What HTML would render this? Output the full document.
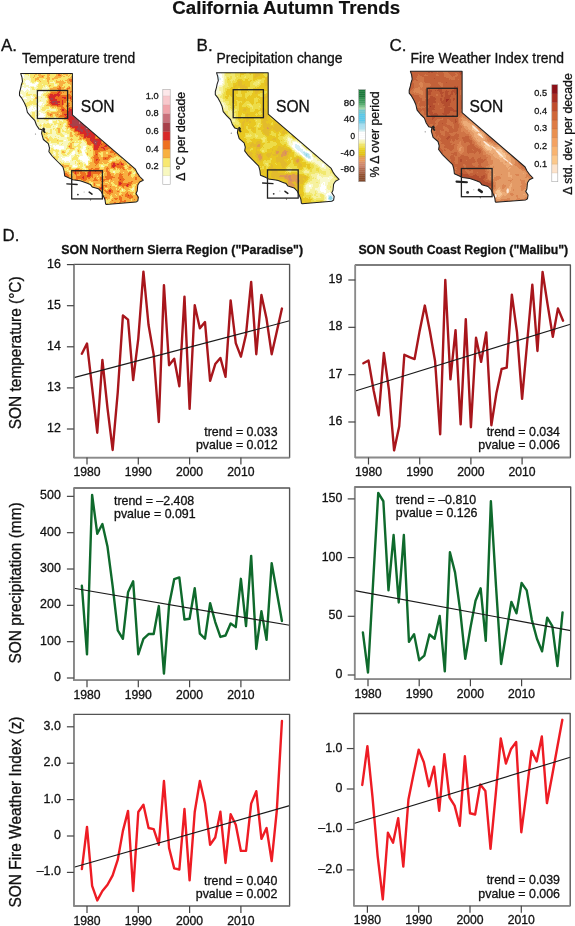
<!DOCTYPE html>
<html><head><meta charset="utf-8"><title>California Autumn Trends</title><style>html,body{margin:0;padding:0;background:#fff;width:575px;height:926px;overflow:hidden}svg{display:block;filter:blur(0.35px)}text{stroke:#111;stroke-width:0.3px}</style></head><body>
<svg width="575" height="926" viewBox="0 0 575 926" font-family='"Liberation Sans", sans-serif' fill="#111">
<defs><clipPath id="clipA"><polygon points="20.7,73.5 72.4,73.5 72.4,114.9 135.4,169.2 137.2,172.9 139.7,176.5 143.3,180.2 139.7,182 137.8,185 137.2,191.1 136,193.6 138.4,197.2 137.8,200.9 136,202.1 106.2,204.5 105.6,203.9 105,199.7 103.1,195.4 101.3,191.7 98.3,188.7 92.2,186.9 90.3,184.4 87.3,183.2 82.4,181.4 80,180.8 72.6,179.7 70.2,178.4 64.7,176 64.1,171.1 62.9,166.9 58,162 52.5,156.5 48.9,151.7 49.5,148 48.3,143.7 43.4,139.5 41.6,133.4 42.2,129.7 39,128.9 36.5,125.2 34.7,120.3 31,116.7 27.4,112.4 26.2,107 24.3,102.7 21.9,98.4 19.5,95.4 19.5,92.3 20.7,88.1 21.3,85 22.5,81.4 21.9,77.1"/></clipPath><filter id="nz1" filterUnits="userSpaceOnUse" x="0" y="60" width="575" height="160" color-interpolation-filters="sRGB"><feGaussianBlur in="SourceGraphic" stdDeviation="2" result="b"/><feTurbulence type="fractalNoise" baseFrequency="0.2" numOctaves="3" seed="3" result="n"/><feColorMatrix in="n" type="matrix" values="0 0 0 0 0 0 0 0 0 0 0 0 0 0 0 4.0 0 0 0 -1.6" result="a"/><feComposite in="b" in2="a" operator="in"/></filter><filter id="nz2" filterUnits="userSpaceOnUse" x="0" y="60" width="575" height="160" color-interpolation-filters="sRGB"><feGaussianBlur in="SourceGraphic" stdDeviation="2" result="b"/><feTurbulence type="fractalNoise" baseFrequency="0.25" numOctaves="3" seed="7" result="n"/><feColorMatrix in="n" type="matrix" values="0 0 0 0 0 0 0 0 0 0 0 0 0 0 0 4.5 0 0 0 -1.9" result="a"/><feComposite in="b" in2="a" operator="in"/></filter><filter id="nz3" filterUnits="userSpaceOnUse" x="0" y="60" width="575" height="160" color-interpolation-filters="sRGB"><feGaussianBlur in="SourceGraphic" stdDeviation="1.5" result="b"/><feTurbulence type="fractalNoise" baseFrequency="0.3" numOctaves="3" seed="11" result="n"/><feColorMatrix in="n" type="matrix" values="0 0 0 0 0 0 0 0 0 0 0 0 0 0 0 5.0 0 0 0 -2.2" result="a"/><feComposite in="b" in2="a" operator="in"/></filter><filter id="nz4" filterUnits="userSpaceOnUse" x="0" y="60" width="575" height="160" color-interpolation-filters="sRGB"><feGaussianBlur in="SourceGraphic" stdDeviation="2.5" result="b"/><feTurbulence type="fractalNoise" baseFrequency="0.18" numOctaves="3" seed="19" result="n"/><feColorMatrix in="n" type="matrix" values="0 0 0 0 0 0 0 0 0 0 0 0 0 0 0 4.0 0 0 0 -1.5" result="a"/><feComposite in="b" in2="a" operator="in"/></filter><filter id="nz5" filterUnits="userSpaceOnUse" x="0" y="60" width="575" height="160" color-interpolation-filters="sRGB"><feGaussianBlur in="SourceGraphic" stdDeviation="1.5" result="b"/><feTurbulence type="fractalNoise" baseFrequency="0.3" numOctaves="3" seed="23" result="n"/><feColorMatrix in="n" type="matrix" values="0 0 0 0 0 0 0 0 0 0 0 0 0 0 0 5.0 0 0 0 -2.4" result="a"/><feComposite in="b" in2="a" operator="in"/></filter><filter id="nz6" filterUnits="userSpaceOnUse" x="0" y="60" width="575" height="160" color-interpolation-filters="sRGB"><feGaussianBlur in="SourceGraphic" stdDeviation="3" result="b"/><feTurbulence type="fractalNoise" baseFrequency="0.15" numOctaves="3" seed="29" result="n"/><feColorMatrix in="n" type="matrix" values="0 0 0 0 0 0 0 0 0 0 0 0 0 0 0 3.5 0 0 0 -1.2" result="a"/><feComposite in="b" in2="a" operator="in"/></filter><filter id="bl2" filterUnits="userSpaceOnUse" x="0" y="60" width="575" height="160"><feGaussianBlur stdDeviation="2"/></filter><filter id="bl3" filterUnits="userSpaceOnUse" x="0" y="60" width="575" height="160"><feGaussianBlur stdDeviation="3"/></filter><filter id="bl4" filterUnits="userSpaceOnUse" x="0" y="60" width="575" height="160"><feGaussianBlur stdDeviation="4"/></filter><filter id="fmA" filterUnits="userSpaceOnUse" x="10" y="66" width="140" height="144" color-interpolation-filters="sRGB"><feGaussianBlur in="SourceGraphic" stdDeviation="2.2" result="fld"/><feTurbulence type="fractalNoise" baseFrequency="0.16" numOctaves="3" seed="4" result="nz"/><feColorMatrix in="nz" type="matrix" values="1 0 0 0 0 1 0 0 0 0 1 0 0 0 0 0 0 0 0 1" result="ng"/><feComposite in="fld" in2="ng" operator="arithmetic" k1="0" k2="1" k3="0.5" k4="-0.25" result="sum"/><feComponentTransfer in="sum"><feFuncR type="discrete" tableValues="1.000 0.973 0.973 0.973 0.933 0.847 0.659 0.784 0.941 0.973 0.992"/><feFuncG type="discrete" tableValues="1.000 0.973 0.910 0.690 0.439 0.157 0.251 0.439 0.643 0.784 0.910"/><feFuncB type="discrete" tableValues="1.000 0.753 0.439 0.251 0.125 0.157 0.290 0.478 0.667 0.800 0.918"/><feFuncA type="table" tableValues="1 1"/></feComponentTransfer><feGaussianBlur stdDeviation="0.45"/></filter><filter id="bl1" filterUnits="userSpaceOnUse" x="0" y="60" width="575" height="160"><feGaussianBlur stdDeviation="0.7"/></filter><filter id="fmB" filterUnits="userSpaceOnUse" x="10" y="66" width="140" height="144" color-interpolation-filters="sRGB"><feGaussianBlur in="SourceGraphic" stdDeviation="2.0" result="fld"/><feTurbulence type="fractalNoise" baseFrequency="0.12" numOctaves="3" seed="9" result="nz"/><feColorMatrix in="nz" type="matrix" values="1 0 0 0 0 1 0 0 0 0 1 0 0 0 0 0 0 0 0 1" result="ng"/><feComposite in="fld" in2="ng" operator="arithmetic" k1="0" k2="1" k3="0.22" k4="-0.11" result="sum"/><feComponentTransfer in="sum"><feFuncR type="discrete" tableValues="0.541 0.659 0.753 0.831 0.878 0.894 0.910 0.933 0.949 0.965 0.980 1.000 1.000 0.847 0.706 0.549 0.376 0.361 0.471 0.659 0.471 0.322 0.227 0.165 0.118"/><feFuncG type="discrete" tableValues="0.298 0.408 0.494 0.549 0.604 0.737 0.784 0.863 0.910 0.949 0.980 1.000 1.000 0.941 0.894 0.839 0.776 0.769 0.800 0.847 0.737 0.643 0.573 0.518 0.478"/><feFuncB type="discrete" tableValues="0.188 0.290 0.384 0.408 0.314 0.173 0.133 0.282 0.439 0.627 0.816 1.000 1.000 0.965 0.941 0.925 0.910 0.902 0.863 0.690 0.533 0.408 0.333 0.282 0.251"/><feFuncA type="table" tableValues="1 1"/></feComponentTransfer><feGaussianBlur stdDeviation="0.45"/></filter><filter id="fmC" filterUnits="userSpaceOnUse" x="10" y="66" width="140" height="144" color-interpolation-filters="sRGB"><feGaussianBlur in="SourceGraphic" stdDeviation="2.4" result="fld"/><feTurbulence type="fractalNoise" baseFrequency="0.13" numOctaves="3" seed="13" result="nz"/><feColorMatrix in="nz" type="matrix" values="1 0 0 0 0 1 0 0 0 0 1 0 0 0 0 0 0 0 0 1" result="ng"/><feComposite in="fld" in2="ng" operator="arithmetic" k1="0" k2="1" k3="0.3" k4="-0.15" result="sum"/><feComponentTransfer in="sum"><feFuncR type="discrete" tableValues="1.000 0.984 0.965 0.933 0.894 0.855 0.812 0.765 0.706 0.627 0.549"/><feFuncG type="discrete" tableValues="1.000 0.886 0.773 0.675 0.604 0.525 0.455 0.384 0.306 0.188 0.102"/><feFuncB type="discrete" tableValues="1.000 0.800 0.588 0.471 0.400 0.329 0.275 0.227 0.188 0.141 0.094"/><feFuncA type="table" tableValues="1 1"/></feComponentTransfer><feGaussianBlur stdDeviation="0.45"/></filter></defs>
<rect width="575" height="926" fill="#fff"/>
<text x="286.2" y="13.6" text-anchor="middle" font-size="18.7" font-weight="bold" style="stroke-width:0.2px">California Autumn Trends</text>
<text x="1" y="50.6" font-size="17">A.</text>
<text x="196.6" y="50.6" font-size="17">B.</text>
<text x="389.4" y="50.6" font-size="17">C.</text>
<text x="22.0" y="63" font-size="13.85">Temperature trend</text>
<text x="216.6" y="63" font-size="13.9">Precipitation change</text>
<text x="410.6" y="63" font-size="13.9">Fire Weather Index trend</text>
<g clip-path="url(#clipA)"><g filter="url(#fmA)">
<rect x="10" y="66" width="140" height="144" fill="#414141"/>
<polygon points="60,70 76,70 76,118 62,112" fill="#535353"/>
<polygon points="30,70 76,70 76,80 30,80" fill="#464646"/>
<polygon points="14,70 30,70 31,90 35,106 42,118 50,128 54,140 60,152 68,165 62,172 52,160 42,142 34,126 26,114 18,100 14,88" fill="#1e1e1e"/>
<polygon points="30,82 46,82 46,118 36,116 30,100" fill="#252525"/>
<ellipse cx="55" cy="99" rx="7" ry="8" fill="#797979" transform="rotate(0 55 99)"/>
<ellipse cx="63" cy="108" rx="5" ry="9" fill="#6b6b6b" transform="rotate(0 63 108)"/>
<polygon points="40,118 58,116 72,128 86,142 92,156 88,166 78,164 66,152 54,140 44,130" fill="#303030"/>
<polygon points="40,124 52,128 64,142 74,154 80,166 72,176 62,172 52,160 44,146" fill="#292929"/>
<ellipse cx="84" cy="157" rx="2.2" ry="8" fill="#000000" transform="rotate(-25 84 157)"/>
<ellipse cx="54" cy="116" rx="2.5" ry="2" fill="#070707" transform="rotate(0 54 116)"/>
<polygon points="62,106 74,110 140,170 130,174 112,164 94,150 78,136 66,124" fill="#666666"/>
<polygon points="66,113 73,113 130,164 122,166 104,154 88,140 74,128 66,120" fill="#7b7b7b"/>
<polygon points="68,115 76,116 92,130 88,137 78,132 68,124" fill="#979797"/>
<ellipse cx="80" cy="126" rx="5" ry="3" fill="#999999" transform="rotate(40 80 126)"/>
<ellipse cx="96" cy="142" rx="2.5" ry="4" fill="#8d8d8d" transform="rotate(-40 96 142)"/>
<ellipse cx="66" cy="104" rx="2" ry="4" fill="#828282" transform="rotate(0 66 104)"/>
<polygon points="90,150 120,152 140,168 146,182 140,206 104,206 96,186 88,170" fill="#535353"/>
<polygon points="64,168 80,170 100,174 104,190 96,190 84,183 70,180 62,176" fill="#5a5a5a"/>
<ellipse cx="84" cy="176" rx="3" ry="3" fill="#747474" transform="rotate(0 84 176)"/>
<polygon points="94,158 112,158 120,170 104,170" fill="#535353"/>
</g>
<g filter="url(#bl1)"><ellipse cx="84.5" cy="155" rx="1.7" ry="7" fill="#fff" transform="rotate(-22 84.5 155)"/><ellipse cx="87" cy="163" rx="1.2" ry="2.5" fill="#fff"/></g>
</g>
<polygon points="20.7,73.5 72.4,73.5 72.4,114.9 135.4,169.2 137.2,172.9 139.7,176.5 143.3,180.2 139.7,182 137.8,185 137.2,191.1 136,193.6 138.4,197.2 137.8,200.9 136,202.1 106.2,204.5 105.6,203.9 105,199.7 103.1,195.4 101.3,191.7 98.3,188.7 92.2,186.9 90.3,184.4 87.3,183.2 82.4,181.4 80,180.8 72.6,179.7 70.2,178.4 64.7,176 64.1,171.1 62.9,166.9 58,162 52.5,156.5 48.9,151.7 49.5,148 48.3,143.7 43.4,139.5 41.6,133.4 42.2,129.7 39,128.9 36.5,125.2 34.7,120.3 31,116.7 27.4,112.4 26.2,107 24.3,102.7 21.9,98.4 19.5,95.4 19.5,92.3 20.7,88.1 21.3,85 22.5,81.4 21.9,77.1" fill="none" stroke="#1e1e1e" stroke-width="1.05" stroke-linejoin="round"/>
<path d="M42.2,128.6 l1.5,-1 l1.5,1.5 l-0.5,1.8 l1.2,1.5 l-1.5,0.8 l-1.5,-1.6 z" fill="#222"/>
<circle cx="35.5" cy="134" r="0.6" fill="#777"/>
<rect x="37.4" y="90.5" width="30.2" height="28" fill="none" stroke="#222" stroke-width="1.3"/>
<rect x="71.7" y="170.7" width="30.7" height="28.2" fill="none" stroke="#222" stroke-width="1.3"/>
<path d="M66.8,183.8 L77.2,184.5" stroke="#222" stroke-width="1.3" stroke-linecap="round"/>
<circle cx="77.9" cy="194.6" r="0.9" fill="#333"/>
<circle cx="84.1" cy="191.9" r="0.5" fill="#999"/>
<path d="M89.2,192.1 L92,194.1" stroke="#222" stroke-width="1.6" stroke-linecap="round"/>
<path d="M89.8,199.4 l1.6,0.2 l-0.8,1.2 z" fill="#222"/>
<text x="80.8" y="112.3" font-size="15.6">SON</text>
<g transform="translate(195.8,-0.8)"><g clip-path="url(#clipA)"><g filter="url(#fmB)"><rect x="10" y="66" width="140" height="144" fill="#434343"/>
<polygon points="14,70 28,70 29,90 33,106 40,118 44,128 38,128 30,116 22,104 14,90" fill="#5e5e5e"/>
<polygon points="14,70 30,70 30,84 25,90 14,90" fill="#787878"/>
<ellipse cx="25" cy="80" rx="2" ry="2" fill="#949494" transform="rotate(0 25 80)"/>
<polygon points="30,72 50,72 50,82 30,82" fill="#4b4b4b"/>
<ellipse cx="62" cy="84" rx="8" ry="5" fill="#4e4e4e" transform="rotate(0 62 84)"/>
<ellipse cx="58" cy="108" rx="6" ry="5" fill="#505050" transform="rotate(20 58 108)"/>
<ellipse cx="40" cy="110" rx="4" ry="6" fill="#505050" transform="rotate(0 40 110)"/>
<ellipse cx="66" cy="140" rx="8" ry="5" fill="#4c4c4c" transform="rotate(30 66 140)"/>
<ellipse cx="64" cy="156" rx="4" ry="4" fill="#2c2c2c" transform="rotate(30 64 156)"/>
<ellipse cx="87" cy="153" rx="5" ry="7" fill="#2b2b2b" transform="rotate(0 87 153)"/>
<ellipse cx="68" cy="149" rx="3" ry="3" fill="#5a5a5a" transform="rotate(0 68 149)"/>
<polygon points="92,135 112,150 136,168 132,174 118,164 100,153 90,145" fill="#737373"/>
<ellipse cx="100" cy="148" rx="3" ry="2" fill="#9e9e9e" transform="rotate(40 100 148)"/>
<ellipse cx="106" cy="151" rx="2.5" ry="1.5" fill="#a8a8a8" transform="rotate(40 106 151)"/>
<ellipse cx="110" cy="156" rx="1.2" ry="3.5" fill="#d6d6d6" transform="rotate(-30 110 156)"/>
<ellipse cx="114" cy="160" rx="2" ry="1.5" fill="#9e9e9e" transform="rotate(40 114 160)"/>
<ellipse cx="120" cy="164" rx="2" ry="1.5" fill="#949494" transform="rotate(40 120 164)"/>
<ellipse cx="109" cy="172" rx="2" ry="2" fill="#a3a3a3" transform="rotate(0 109 172)"/>
<polygon points="104,172 140,174 144,186 140,200 120,200 108,190" fill="#666666"/>
<ellipse cx="126" cy="190" rx="5" ry="4" fill="#757575" transform="rotate(0 126 190)"/>
<ellipse cx="135" cy="199" rx="4" ry="4" fill="#adadad" transform="rotate(0 135 199)"/>
<polygon points="80,175 100,174 114,176 114,183 100,184 88,182 80,180" fill="#2b2b2b"/>
<ellipse cx="94" cy="172" rx="5" ry="3" fill="#4c4c4c" transform="rotate(0 94 172)"/>
<ellipse cx="112" cy="196" rx="4" ry="3" fill="#575757" transform="rotate(0 112 196)"/></g></g></g>
<polygon points="216.5,72.7 268.2,72.7 268.2,114.1 331.2,168.4 333,172.1 335.5,175.7 339.1,179.4 335.5,181.2 333.6,184.2 333,190.3 331.8,192.8 334.2,196.4 333.6,200.1 331.8,201.3 302,203.7 301.4,203.1 300.8,198.9 298.9,194.6 297.1,190.9 294.1,187.9 288,186.1 286.1,183.6 283.1,182.4 278.2,180.6 275.8,180 268.4,178.9 266,177.6 260.5,175.2 259.9,170.3 258.7,166.1 253.8,161.2 248.3,155.7 244.7,150.9 245.3,147.2 244.1,142.9 239.2,138.7 237.4,132.6 238,128.9 234.8,128.1 232.3,124.4 230.5,119.5 226.8,115.9 223.2,111.6 222,106.2 220.1,101.9 217.7,97.6 215.3,94.6 215.3,91.5 216.5,87.3 217.1,84.2 218.3,80.6 217.7,76.3" fill="none" stroke="#1e1e1e" stroke-width="1.05" stroke-linejoin="round"/>
<path d="M238,127.8 l1.5,-1 l1.5,1.5 l-0.5,1.8 l1.2,1.5 l-1.5,0.8 l-1.5,-1.6 z" fill="#222"/>
<circle cx="231.3" cy="133.2" r="0.6" fill="#777"/>
<rect x="233.2" y="89.7" width="30.2" height="28" fill="none" stroke="#222" stroke-width="1.3"/>
<rect x="267.5" y="169.9" width="30.7" height="28.2" fill="none" stroke="#222" stroke-width="1.3"/>
<path d="M262.6,183 L273,183.7" stroke="#222" stroke-width="1.3" stroke-linecap="round"/>
<circle cx="273.7" cy="193.8" r="0.9" fill="#333"/>
<circle cx="279.9" cy="191.1" r="0.5" fill="#999"/>
<path d="M285,191.3 L287.8,193.3" stroke="#222" stroke-width="1.6" stroke-linecap="round"/>
<path d="M285.6,198.6 l1.6,0.2 l-0.8,1.2 z" fill="#222"/>
<text x="276" y="112.3" font-size="15.6">SON</text>
<g transform="translate(389.7,-2.2)"><g clip-path="url(#clipA)"><g filter="url(#fmC)"><rect x="10" y="66" width="140" height="144" fill="#a6a6a6"/>
<polygon points="20,70 76,70 76,116 40,120 24,100" fill="#a9a9a9"/>
<polygon points="36,88 70,88 70,120 36,120" fill="#b7b7b7"/>
<ellipse cx="48" cy="80" rx="6" ry="4" fill="#b0b0b0" transform="rotate(0 48 80)"/>
<ellipse cx="30" cy="90" rx="5" ry="8" fill="#828282" transform="rotate(0 30 90)"/>
<polygon points="72,118 80,122 100,142 124,160 130,170 122,172 104,160 88,146 76,132 70,124" fill="#535353"/>
<ellipse cx="88" cy="134" rx="1.6" ry="9" fill="#000000" transform="rotate(-50 88 134)"/>
<ellipse cx="113" cy="156" rx="1.6" ry="9" fill="#000000" transform="rotate(-50 113 156)"/>
<ellipse cx="98" cy="150" rx="1.3" ry="6" fill="#0c0c0c" transform="rotate(-50 98 150)"/>
<ellipse cx="120" cy="194" rx="2" ry="4" fill="#070707" transform="rotate(0 120 194)"/>
<ellipse cx="108" cy="200" rx="2" ry="3" fill="#131313" transform="rotate(0 108 200)"/>
<polygon points="96,160 120,164 138,174 144,184 138,204 106,204 100,186" fill="#6b6b6b"/>
<ellipse cx="108" cy="196" rx="3" ry="4" fill="#171717" transform="rotate(0 108 196)"/>
<ellipse cx="120" cy="178" rx="4" ry="3" fill="#535353" transform="rotate(0 120 178)"/>
<polygon points="70,175 84,177 96,180 106,188 100,191 90,187 80,184 70,181" fill="#cecece"/>
<ellipse cx="56" cy="156" rx="6" ry="8" fill="#a2a2a2" transform="rotate(-30 56 156)"/>
<ellipse cx="44" cy="136" rx="5" ry="6" fill="#9e9e9e" transform="rotate(-30 44 136)"/>
<ellipse cx="70" cy="150" rx="6" ry="6" fill="#7d7d7d" transform="rotate(0 70 150)"/></g><g filter="url(#bl1)" opacity="0.85"><ellipse cx="86" cy="131" rx="0.9" ry="5" fill="#fff4ea" transform="rotate(-48 86 131)"/><ellipse cx="91" cy="138" rx="0.7" ry="3.5" fill="#fff4ea" transform="rotate(-48 91 138)"/><ellipse cx="97" cy="146" rx="0.8" ry="4.5" fill="#fff4ea" transform="rotate(-50 97 146)"/><ellipse cx="104" cy="150" rx="0.7" ry="3" fill="#fff4ea" transform="rotate(-50 104 150)"/><ellipse cx="110" cy="156" rx="0.9" ry="5" fill="#fff4ea" transform="rotate(-48 110 156)"/><ellipse cx="116" cy="162" rx="0.7" ry="3.5" fill="#fff4ea" transform="rotate(-50 116 162)"/><ellipse cx="121" cy="166" rx="0.6" ry="2.5" fill="#fff4ea" transform="rotate(-50 121 166)"/><ellipse cx="118" cy="193" rx="1.2" ry="2.5" fill="#fff4ea" transform="rotate(0 118 193)"/><ellipse cx="106" cy="198" rx="1" ry="2" fill="#fff4ea" transform="rotate(0 106 198)"/></g></g></g>
<polygon points="410.4,71.3 462.1,71.3 462.1,112.7 525.1,167 526.9,170.7 529.4,174.3 533,178 529.4,179.8 527.5,182.8 526.9,188.9 525.7,191.4 528.1,195 527.5,198.7 525.7,199.9 495.9,202.3 495.3,201.7 494.7,197.5 492.8,193.2 491,189.5 488,186.5 481.9,184.7 480,182.2 477,181 472.1,179.2 469.7,178.6 462.3,177.5 459.9,176.2 454.4,173.8 453.8,168.9 452.6,164.7 447.7,159.8 442.2,154.3 438.6,149.5 439.2,145.8 438,141.5 433.1,137.3 431.3,131.2 431.9,127.5 428.7,126.7 426.2,123 424.4,118.1 420.7,114.5 417.1,110.2 415.9,104.8 414,100.5 411.6,96.2 409.2,93.2 409.2,90.1 410.4,85.9 411,82.8 412.2,79.2 411.6,74.9" fill="none" stroke="#1e1e1e" stroke-width="1.05" stroke-linejoin="round"/>
<path d="M431.9,126.4 l1.5,-1 l1.5,1.5 l-0.5,1.8 l1.2,1.5 l-1.5,0.8 l-1.5,-1.6 z" fill="#222"/>
<circle cx="425.2" cy="131.8" r="0.6" fill="#777"/>
<rect x="427.1" y="88.3" width="30.2" height="28" fill="none" stroke="#222" stroke-width="1.3"/>
<rect x="461.4" y="168.5" width="30.7" height="28.2" fill="none" stroke="#222" stroke-width="1.3"/>
<path d="M456.5,181.6 L466.9,182.3" stroke="#222" stroke-width="2.08" stroke-linecap="round"/>
<circle cx="467.6" cy="192.4" r="1.44" fill="#333"/>
<circle cx="473.8" cy="189.7" r="0.5" fill="#999"/>
<path d="M478.9,189.9 L481.7,191.9" stroke="#222" stroke-width="2.56" stroke-linecap="round"/>
<path d="M479.5,197.2 l1.6,0.2 l-0.8,1.2 z" fill="#222"/>
<text x="469.6" y="112.3" font-size="15.6">SON</text>
<rect x="162.8" y="175.63" width="7.4" height="9.07" fill="#ffffff"/>
<rect x="162.8" y="166.76" width="7.4" height="9.07" fill="#f8f8c0"/>
<rect x="162.8" y="157.89" width="7.4" height="9.07" fill="#f8e870"/>
<rect x="162.8" y="149.02" width="7.4" height="9.07" fill="#f8b040"/>
<rect x="162.8" y="140.15" width="7.4" height="9.07" fill="#ee7020"/>
<rect x="162.8" y="131.28" width="7.4" height="9.07" fill="#d82828"/>
<rect x="162.8" y="122.41" width="7.4" height="9.07" fill="#a8404a"/>
<rect x="162.8" y="113.54" width="7.4" height="9.07" fill="#c8707a"/>
<rect x="162.8" y="104.67" width="7.4" height="9.07" fill="#f0a4aa"/>
<rect x="162.8" y="95.8" width="7.4" height="9.07" fill="#f8c8cc"/>
<rect x="162.8" y="89.3" width="7.4" height="6.7" fill="#fde8ea"/>
<line x1="162.8" x2="170.2" y1="175.63" y2="175.63" stroke="#000" stroke-opacity="0.12" stroke-width="0.5"/>
<line x1="162.8" x2="170.2" y1="166.76" y2="166.76" stroke="#000" stroke-opacity="0.12" stroke-width="0.5"/>
<line x1="162.8" x2="170.2" y1="157.89" y2="157.89" stroke="#000" stroke-opacity="0.12" stroke-width="0.5"/>
<line x1="162.8" x2="170.2" y1="149.02" y2="149.02" stroke="#000" stroke-opacity="0.12" stroke-width="0.5"/>
<line x1="162.8" x2="170.2" y1="140.15" y2="140.15" stroke="#000" stroke-opacity="0.12" stroke-width="0.5"/>
<line x1="162.8" x2="170.2" y1="131.28" y2="131.28" stroke="#000" stroke-opacity="0.12" stroke-width="0.5"/>
<line x1="162.8" x2="170.2" y1="122.41" y2="122.41" stroke="#000" stroke-opacity="0.12" stroke-width="0.5"/>
<line x1="162.8" x2="170.2" y1="113.54" y2="113.54" stroke="#000" stroke-opacity="0.12" stroke-width="0.5"/>
<line x1="162.8" x2="170.2" y1="104.67" y2="104.67" stroke="#000" stroke-opacity="0.12" stroke-width="0.5"/>
<line x1="162.8" x2="170.2" y1="95.8" y2="95.8" stroke="#000" stroke-opacity="0.12" stroke-width="0.5"/>
<rect x="162.8" y="89.3" width="7.4" height="95.2" fill="none" stroke="#aaa" stroke-width="0.6"/>
<text x="158.6" y="169.46" text-anchor="end" font-size="9.2" fill="#222" stroke="#222" stroke-width="0.25">0.2</text>
<text x="158.6" y="151.72" text-anchor="end" font-size="9.2" fill="#222" stroke="#222" stroke-width="0.25">0.4</text>
<text x="158.6" y="133.98" text-anchor="end" font-size="9.2" fill="#222" stroke="#222" stroke-width="0.25">0.6</text>
<text x="158.6" y="116.24" text-anchor="end" font-size="9.2" fill="#222" stroke="#222" stroke-width="0.25">0.8</text>
<text x="158.6" y="98.5" text-anchor="end" font-size="9.2" fill="#222" stroke="#222" stroke-width="0.25">1.0</text>
<text transform="translate(184.7,136.4) rotate(-90)" text-anchor="middle" font-size="12.2">Δ °C per decade</text>
<rect x="358.6" y="89.6" width="6.8" height="2.2" fill="#1c7a3c"/>
<rect x="358.6" y="91.6" width="6.8" height="2.2" fill="#1c7a3c"/>
<rect x="358.6" y="93.6" width="6.8" height="2.2" fill="#1c7a3c"/>
<rect x="358.6" y="95.6" width="6.8" height="2.2" fill="#1c7a3c"/>
<rect x="358.6" y="97.6" width="6.8" height="2.2" fill="#339050"/>
<rect x="358.6" y="99.6" width="6.8" height="2.2" fill="#3a9656"/>
<rect x="358.6" y="101.6" width="6.8" height="2.2" fill="#439d5d"/>
<rect x="358.6" y="103.6" width="6.8" height="2.2" fill="#5ab070"/>
<rect x="358.6" y="105.6" width="6.8" height="2.2" fill="#7bc38a"/>
<rect x="358.6" y="107.6" width="6.8" height="2.2" fill="#a0d8a8"/>
<rect x="358.6" y="109.6" width="6.8" height="2.2" fill="#70c8d0"/>
<rect x="358.6" y="111.6" width="6.8" height="2.2" fill="#70c8d0"/>
<rect x="358.6" y="113.6" width="6.8" height="2.2" fill="#59c8e8"/>
<rect x="358.6" y="115.6" width="6.8" height="2.2" fill="#5ac8e9"/>
<rect x="358.6" y="117.6" width="6.8" height="2.2" fill="#5bc8e9"/>
<rect x="358.6" y="119.6" width="6.8" height="2.2" fill="#5cc8ea"/>
<rect x="358.6" y="121.6" width="6.8" height="2.2" fill="#78cce3"/>
<rect x="358.6" y="123.6" width="6.8" height="2.2" fill="#a2ddf0"/>
<rect x="358.6" y="125.6" width="6.8" height="2.2" fill="#a8dff0"/>
<rect x="358.6" y="127.6" width="6.8" height="2.2" fill="#afe1f0"/>
<rect x="358.6" y="129.6" width="6.8" height="2.2" fill="#d1eff2"/>
<rect x="358.6" y="131.6" width="6.8" height="2.2" fill="#ffffff"/>
<rect x="358.6" y="133.6" width="6.8" height="2.2" fill="#ffffff"/>
<rect x="358.6" y="135.6" width="6.8" height="2.2" fill="#ffffff"/>
<rect x="358.6" y="137.6" width="6.8" height="2.2" fill="#ffffff"/>
<rect x="358.6" y="139.6" width="6.8" height="2.2" fill="#f9f7c1"/>
<rect x="358.6" y="141.6" width="6.8" height="2.2" fill="#f7f4a9"/>
<rect x="358.6" y="143.6" width="6.8" height="2.2" fill="#f1e669"/>
<rect x="358.6" y="145.6" width="6.8" height="2.2" fill="#f0e157"/>
<rect x="358.6" y="147.6" width="6.8" height="2.2" fill="#ebd72e"/>
<rect x="358.6" y="149.6" width="6.8" height="2.2" fill="#e8ce1b"/>
<rect x="358.6" y="151.6" width="6.8" height="2.2" fill="#e5c817"/>
<rect x="358.6" y="153.6" width="6.8" height="2.2" fill="#e3c212"/>
<rect x="358.6" y="155.6" width="6.8" height="2.2" fill="#e0a43c"/>
<rect x="358.6" y="157.6" width="6.8" height="2.2" fill="#e79a59"/>
<rect x="358.6" y="159.6" width="6.8" height="2.2" fill="#e6995d"/>
<rect x="358.6" y="161.6" width="6.8" height="2.2" fill="#d88f69"/>
<rect x="358.6" y="163.6" width="6.8" height="2.2" fill="#cf876b"/>
<rect x="358.6" y="165.6" width="6.8" height="2.2" fill="#ca826a"/>
<rect x="358.6" y="167.6" width="6.8" height="2.2" fill="#b56e55"/>
<rect x="358.6" y="169.6" width="6.8" height="2.2" fill="#ae694e"/>
<rect x="358.6" y="171.6" width="6.8" height="2.2" fill="#a76347"/>
<rect x="358.6" y="173.6" width="6.8" height="2.2" fill="#935332"/>
<rect x="358.6" y="175.6" width="6.8" height="2.2" fill="#8e4f2f"/>
<rect x="358.6" y="177.6" width="6.8" height="2.2" fill="#884b2d"/>
<rect x="358.6" y="179.6" width="6.8" height="2.2" fill="#82472a"/>
<line x1="358.6" x2="365.4" y1="91.6" y2="91.6" stroke="#000" stroke-opacity="0.06" stroke-width="0.4"/>
<line x1="358.6" x2="365.4" y1="93.6" y2="93.6" stroke="#000" stroke-opacity="0.06" stroke-width="0.4"/>
<line x1="358.6" x2="365.4" y1="95.6" y2="95.6" stroke="#000" stroke-opacity="0.06" stroke-width="0.4"/>
<line x1="358.6" x2="365.4" y1="97.6" y2="97.6" stroke="#000" stroke-opacity="0.06" stroke-width="0.4"/>
<line x1="358.6" x2="365.4" y1="99.6" y2="99.6" stroke="#000" stroke-opacity="0.06" stroke-width="0.4"/>
<line x1="358.6" x2="365.4" y1="101.6" y2="101.6" stroke="#000" stroke-opacity="0.06" stroke-width="0.4"/>
<line x1="358.6" x2="365.4" y1="103.6" y2="103.6" stroke="#000" stroke-opacity="0.06" stroke-width="0.4"/>
<line x1="358.6" x2="365.4" y1="105.6" y2="105.6" stroke="#000" stroke-opacity="0.06" stroke-width="0.4"/>
<line x1="358.6" x2="365.4" y1="107.6" y2="107.6" stroke="#000" stroke-opacity="0.06" stroke-width="0.4"/>
<line x1="358.6" x2="365.4" y1="109.6" y2="109.6" stroke="#000" stroke-opacity="0.06" stroke-width="0.4"/>
<line x1="358.6" x2="365.4" y1="111.6" y2="111.6" stroke="#000" stroke-opacity="0.06" stroke-width="0.4"/>
<line x1="358.6" x2="365.4" y1="113.6" y2="113.6" stroke="#000" stroke-opacity="0.06" stroke-width="0.4"/>
<line x1="358.6" x2="365.4" y1="115.6" y2="115.6" stroke="#000" stroke-opacity="0.06" stroke-width="0.4"/>
<line x1="358.6" x2="365.4" y1="117.6" y2="117.6" stroke="#000" stroke-opacity="0.06" stroke-width="0.4"/>
<line x1="358.6" x2="365.4" y1="119.6" y2="119.6" stroke="#000" stroke-opacity="0.06" stroke-width="0.4"/>
<line x1="358.6" x2="365.4" y1="121.6" y2="121.6" stroke="#000" stroke-opacity="0.06" stroke-width="0.4"/>
<line x1="358.6" x2="365.4" y1="123.6" y2="123.6" stroke="#000" stroke-opacity="0.06" stroke-width="0.4"/>
<line x1="358.6" x2="365.4" y1="125.6" y2="125.6" stroke="#000" stroke-opacity="0.06" stroke-width="0.4"/>
<line x1="358.6" x2="365.4" y1="127.6" y2="127.6" stroke="#000" stroke-opacity="0.06" stroke-width="0.4"/>
<line x1="358.6" x2="365.4" y1="129.6" y2="129.6" stroke="#000" stroke-opacity="0.06" stroke-width="0.4"/>
<line x1="358.6" x2="365.4" y1="131.6" y2="131.6" stroke="#000" stroke-opacity="0.06" stroke-width="0.4"/>
<line x1="358.6" x2="365.4" y1="133.6" y2="133.6" stroke="#000" stroke-opacity="0.06" stroke-width="0.4"/>
<line x1="358.6" x2="365.4" y1="135.6" y2="135.6" stroke="#000" stroke-opacity="0.06" stroke-width="0.4"/>
<line x1="358.6" x2="365.4" y1="137.6" y2="137.6" stroke="#000" stroke-opacity="0.06" stroke-width="0.4"/>
<line x1="358.6" x2="365.4" y1="139.6" y2="139.6" stroke="#000" stroke-opacity="0.06" stroke-width="0.4"/>
<line x1="358.6" x2="365.4" y1="141.6" y2="141.6" stroke="#000" stroke-opacity="0.06" stroke-width="0.4"/>
<line x1="358.6" x2="365.4" y1="143.6" y2="143.6" stroke="#000" stroke-opacity="0.06" stroke-width="0.4"/>
<line x1="358.6" x2="365.4" y1="145.6" y2="145.6" stroke="#000" stroke-opacity="0.06" stroke-width="0.4"/>
<line x1="358.6" x2="365.4" y1="147.6" y2="147.6" stroke="#000" stroke-opacity="0.06" stroke-width="0.4"/>
<line x1="358.6" x2="365.4" y1="149.6" y2="149.6" stroke="#000" stroke-opacity="0.06" stroke-width="0.4"/>
<line x1="358.6" x2="365.4" y1="151.6" y2="151.6" stroke="#000" stroke-opacity="0.06" stroke-width="0.4"/>
<line x1="358.6" x2="365.4" y1="153.6" y2="153.6" stroke="#000" stroke-opacity="0.06" stroke-width="0.4"/>
<line x1="358.6" x2="365.4" y1="155.6" y2="155.6" stroke="#000" stroke-opacity="0.06" stroke-width="0.4"/>
<line x1="358.6" x2="365.4" y1="157.6" y2="157.6" stroke="#000" stroke-opacity="0.06" stroke-width="0.4"/>
<line x1="358.6" x2="365.4" y1="159.6" y2="159.6" stroke="#000" stroke-opacity="0.06" stroke-width="0.4"/>
<line x1="358.6" x2="365.4" y1="161.6" y2="161.6" stroke="#000" stroke-opacity="0.06" stroke-width="0.4"/>
<line x1="358.6" x2="365.4" y1="163.6" y2="163.6" stroke="#000" stroke-opacity="0.06" stroke-width="0.4"/>
<line x1="358.6" x2="365.4" y1="165.6" y2="165.6" stroke="#000" stroke-opacity="0.06" stroke-width="0.4"/>
<line x1="358.6" x2="365.4" y1="167.6" y2="167.6" stroke="#000" stroke-opacity="0.06" stroke-width="0.4"/>
<line x1="358.6" x2="365.4" y1="169.6" y2="169.6" stroke="#000" stroke-opacity="0.06" stroke-width="0.4"/>
<line x1="358.6" x2="365.4" y1="171.6" y2="171.6" stroke="#000" stroke-opacity="0.06" stroke-width="0.4"/>
<line x1="358.6" x2="365.4" y1="173.6" y2="173.6" stroke="#000" stroke-opacity="0.06" stroke-width="0.4"/>
<line x1="358.6" x2="365.4" y1="175.6" y2="175.6" stroke="#000" stroke-opacity="0.06" stroke-width="0.4"/>
<line x1="358.6" x2="365.4" y1="177.6" y2="177.6" stroke="#000" stroke-opacity="0.06" stroke-width="0.4"/>
<line x1="358.6" x2="365.4" y1="179.6" y2="179.6" stroke="#000" stroke-opacity="0.06" stroke-width="0.4"/>
<rect x="358.6" y="89.6" width="6.8" height="92" fill="none" stroke="#aaa" stroke-width="0.6"/>
<text x="354.6" y="105.8" text-anchor="end" font-size="9.8" fill="#222" stroke="#222" stroke-width="0.25">80</text>
<text x="354.6" y="122.4" text-anchor="end" font-size="9.8" fill="#222" stroke="#222" stroke-width="0.25">40</text>
<text x="354.6" y="155.7" text-anchor="end" font-size="9.8" fill="#222" stroke="#222" stroke-width="0.25">-40</text>
<text x="354.6" y="171.6" text-anchor="end" font-size="9.8" fill="#222" stroke="#222" stroke-width="0.25">-80</text>
<text x="355.1" y="138.7" text-anchor="end" font-size="8.2" fill="#222">0</text>
<text transform="translate(379,134.4) rotate(-90)" text-anchor="middle" font-size="12.3">% Δ over period</text>
<rect x="551.8" y="172.88" width="6" height="9.12" fill="#ffffff"/>
<rect x="551.8" y="164.06" width="6" height="9.12" fill="#fde3cb"/>
<rect x="551.8" y="155.25" width="6" height="9.12" fill="#fcc88a"/>
<rect x="551.8" y="146.43" width="6" height="9.12" fill="#f9b470"/>
<rect x="551.8" y="137.61" width="6" height="9.12" fill="#f4a262"/>
<rect x="551.8" y="128.79" width="6" height="9.12" fill="#ea9050"/>
<rect x="551.8" y="119.97" width="6" height="9.12" fill="#de7b44"/>
<rect x="551.8" y="111.15" width="6" height="9.12" fill="#d06638"/>
<rect x="551.8" y="102.34" width="6" height="9.12" fill="#c04c2c"/>
<rect x="551.8" y="93.52" width="6" height="9.12" fill="#a82c22"/>
<rect x="551.8" y="84.7" width="6" height="9.12" fill="#8c1018"/>
<line x1="551.8" x2="557.8" y1="172.88" y2="172.88" stroke="#000" stroke-opacity="0.12" stroke-width="0.5"/>
<line x1="551.8" x2="557.8" y1="164.06" y2="164.06" stroke="#000" stroke-opacity="0.12" stroke-width="0.5"/>
<line x1="551.8" x2="557.8" y1="155.25" y2="155.25" stroke="#000" stroke-opacity="0.12" stroke-width="0.5"/>
<line x1="551.8" x2="557.8" y1="146.43" y2="146.43" stroke="#000" stroke-opacity="0.12" stroke-width="0.5"/>
<line x1="551.8" x2="557.8" y1="137.61" y2="137.61" stroke="#000" stroke-opacity="0.12" stroke-width="0.5"/>
<line x1="551.8" x2="557.8" y1="128.79" y2="128.79" stroke="#000" stroke-opacity="0.12" stroke-width="0.5"/>
<line x1="551.8" x2="557.8" y1="119.97" y2="119.97" stroke="#000" stroke-opacity="0.12" stroke-width="0.5"/>
<line x1="551.8" x2="557.8" y1="111.15" y2="111.15" stroke="#000" stroke-opacity="0.12" stroke-width="0.5"/>
<line x1="551.8" x2="557.8" y1="102.34" y2="102.34" stroke="#000" stroke-opacity="0.12" stroke-width="0.5"/>
<line x1="551.8" x2="557.8" y1="93.52" y2="93.52" stroke="#000" stroke-opacity="0.12" stroke-width="0.5"/>
<rect x="551.8" y="84.7" width="6" height="97" fill="none" stroke="#aaa" stroke-width="0.6"/>
<text x="547.0" y="166.66" text-anchor="end" font-size="9.2" fill="#222" stroke="#222" stroke-width="0.25">0.1</text>
<text x="547.0" y="149.03" text-anchor="end" font-size="9.2" fill="#222" stroke="#222" stroke-width="0.25">0.2</text>
<text x="547.0" y="131.39" text-anchor="end" font-size="9.2" fill="#222" stroke="#222" stroke-width="0.25">0.3</text>
<text x="547.0" y="113.75" text-anchor="end" font-size="9.2" fill="#222" stroke="#222" stroke-width="0.25">0.4</text>
<text x="547.0" y="96.12" text-anchor="end" font-size="9.2" fill="#222" stroke="#222" stroke-width="0.25">0.5</text>
<text transform="translate(572.1,134) rotate(-90)" text-anchor="middle" font-size="12.3">Δ std. dev. per decade</text>
<text x="2.6" y="241" font-size="16.8">D.</text>
<text x="61.3" y="253.6" font-size="12.4" font-weight="bold">SON Northern Sierra Region ("Paradise")</text>
<text x="358.4" y="253.6" font-size="12.3" font-weight="bold">SON South Coast Region ("Malibu")</text>
<polyline points="81.87,353.79 87,343.51 92.13,387.9 97.26,432.7 102.39,359.95 107.52,408.45 112.65,449.96 117.78,392.01 122.91,315.56 128.04,319.67 133.17,380.09 138.3,338.58 143.43,271.59 148.56,325.02 153.69,354.61 158.82,422.01 163.95,285.15 169.08,365.29 174.21,358.72 179.34,386.26 184.47,296.66 189.6,408.86 194.73,305.29 199.86,328.31 204.99,322.14 210.12,380.91 215.25,364.06 220.38,357.9 225.51,376.8 230.64,300.36 235.77,343.1 240.9,356.66 246.03,334.47 251.16,281.86 256.29,354.2 261.42,295.01 266.55,318.85 271.68,354.2 276.81,331.59 281.94,308.58" fill="none" stroke="#a8161c" stroke-width="2.4" stroke-linejoin="round" stroke-linecap="round"/>
<line x1="73.9" y1="377.6" x2="289.6" y2="320.8" stroke="#1a1a1a" stroke-width="1.1"/>
<rect x="73.9" y="264.4" width="215.7" height="193.2" fill="none" stroke="#535353" stroke-width="1.35" stroke-linejoin="round"/>
<path d="M73.9,264.4 L73.9,457.6 L289.6,457.6" fill="none" stroke="#8a8a8a" stroke-width="1.6" stroke-linejoin="round"/>
<line x1="66.9" y1="429" x2="73.9" y2="429" stroke="#444" stroke-width="1.2"/>
<text x="60.8" y="432" text-anchor="end" font-size="12.4">12</text>
<line x1="66.9" y1="387.9" x2="73.9" y2="387.9" stroke="#444" stroke-width="1.2"/>
<text x="60.8" y="390.9" text-anchor="end" font-size="12.4">13</text>
<line x1="66.9" y1="346.8" x2="73.9" y2="346.8" stroke="#444" stroke-width="1.2"/>
<text x="60.8" y="349.8" text-anchor="end" font-size="12.4">14</text>
<line x1="66.9" y1="305.7" x2="73.9" y2="305.7" stroke="#444" stroke-width="1.2"/>
<text x="60.8" y="308.7" text-anchor="end" font-size="12.4">15</text>
<line x1="66.9" y1="264.6" x2="73.9" y2="264.6" stroke="#444" stroke-width="1.2"/>
<text x="60.8" y="267.6" text-anchor="end" font-size="12.4">16</text>
<line x1="87" y1="457.6" x2="87" y2="464.6" stroke="#444" stroke-width="1.2"/>
<text x="87" y="476.2" text-anchor="middle" font-size="12.2">1980</text>
<line x1="138.3" y1="457.6" x2="138.3" y2="464.6" stroke="#444" stroke-width="1.2"/>
<text x="138.3" y="476.2" text-anchor="middle" font-size="12.2">1990</text>
<line x1="189.6" y1="457.6" x2="189.6" y2="464.6" stroke="#444" stroke-width="1.2"/>
<text x="189.6" y="476.2" text-anchor="middle" font-size="12.2">2000</text>
<line x1="240.9" y1="457.6" x2="240.9" y2="464.6" stroke="#444" stroke-width="1.2"/>
<text x="240.9" y="476.2" text-anchor="middle" font-size="12.2">2010</text>
<text x="277.6" y="435.6" text-anchor="end" font-size="12.4">trend = 0.033</text>
<text x="277.6" y="448.8" text-anchor="end" font-size="12.4">pvalue = 0.012</text>
<polyline points="363.38,363.3 368.5,360.46 373.62,390.28 378.74,415.36 383.86,352.89 388.98,390.28 394.1,450.39 399.22,426.25 404.34,354.78 409.46,357.15 414.58,359.04 419.7,330.64 424.82,305.56 429.94,331.59 435.06,360.93 440.18,434.3 445.3,280 450.42,379.39 455.54,330.17 460.66,424.36 465.78,319.28 470.9,427.2 476.02,337.74 481.14,361.88 486.26,332.54 491.38,425.3 496.5,392.65 501.62,368.98 506.74,367.56 511.86,294.67 516.98,332.06 522.1,398.8 527.22,342 532.34,284.73 537.46,351 542.58,271.95 547.7,305.08 552.82,336.8 557.94,308.4 563.06,320.7" fill="none" stroke="#a8161c" stroke-width="2.4" stroke-linejoin="round" stroke-linecap="round"/>
<line x1="355.3" y1="391" x2="570.4" y2="324.2" stroke="#1a1a1a" stroke-width="1.1"/>
<rect x="355.3" y="265" width="215.1" height="192.5" fill="none" stroke="#535353" stroke-width="1.35" stroke-linejoin="round"/>
<path d="M355.3,265 L355.3,457.5 L570.4,457.5" fill="none" stroke="#8a8a8a" stroke-width="1.6" stroke-linejoin="round"/>
<line x1="348.3" y1="421.99" x2="355.3" y2="421.99" stroke="#444" stroke-width="1.2"/>
<text x="342.4" y="424.99" text-anchor="end" font-size="12.4">16</text>
<line x1="348.3" y1="374.66" x2="355.3" y2="374.66" stroke="#444" stroke-width="1.2"/>
<text x="342.4" y="377.66" text-anchor="end" font-size="12.4">17</text>
<line x1="348.3" y1="327.33" x2="355.3" y2="327.33" stroke="#444" stroke-width="1.2"/>
<text x="342.4" y="330.33" text-anchor="end" font-size="12.4">18</text>
<line x1="348.3" y1="280" x2="355.3" y2="280" stroke="#444" stroke-width="1.2"/>
<text x="342.4" y="283" text-anchor="end" font-size="12.4">19</text>
<line x1="368.5" y1="457.5" x2="368.5" y2="464.5" stroke="#444" stroke-width="1.2"/>
<text x="368.5" y="476.1" text-anchor="middle" font-size="12.2">1980</text>
<line x1="419.7" y1="457.5" x2="419.7" y2="464.5" stroke="#444" stroke-width="1.2"/>
<text x="419.7" y="476.1" text-anchor="middle" font-size="12.2">1990</text>
<line x1="470.9" y1="457.5" x2="470.9" y2="464.5" stroke="#444" stroke-width="1.2"/>
<text x="470.9" y="476.1" text-anchor="middle" font-size="12.2">2000</text>
<line x1="522.1" y1="457.5" x2="522.1" y2="464.5" stroke="#444" stroke-width="1.2"/>
<text x="522.1" y="476.1" text-anchor="middle" font-size="12.2">2010</text>
<text x="560" y="435.6" text-anchor="end" font-size="12.4">trend = 0.034</text>
<text x="560" y="448.8" text-anchor="end" font-size="12.4">pvalue = 0.006</text>
<polyline points="81.87,585.72 87,654.39 92.13,494.9 97.26,533.77 102.39,523.96 107.52,546.85 112.65,586.09 117.78,630.41 122.91,638.76 128.04,592.26 133.17,581.36 138.3,654.39 143.43,638.76 148.56,634.04 153.69,634.04 158.82,606.07 163.95,673.64 169.08,604.98 174.21,579.18 179.34,577.37 184.47,619.51 189.6,618.78 194.73,588.26 199.86,633.68 204.99,638.76 210.12,603.16 215.25,622.05 220.38,636.95 225.51,635.49 230.64,623.5 235.77,627.14 240.9,578.82 246.03,626.05 251.16,555.93 256.29,648.94 261.42,611.15 266.55,639.85 271.68,563.2 276.81,592.26 281.94,620.96" fill="none" stroke="#0f6a2c" stroke-width="2.4" stroke-linejoin="round" stroke-linecap="round"/>
<line x1="73.9" y1="588.3" x2="289.6" y2="625.3" stroke="#1a1a1a" stroke-width="1.1"/>
<rect x="73.9" y="488" width="215.7" height="192.2" fill="none" stroke="#535353" stroke-width="1.35" stroke-linejoin="round"/>
<path d="M73.9,488 L73.9,680.2 L289.6,680.2" fill="none" stroke="#8a8a8a" stroke-width="1.6" stroke-linejoin="round"/>
<line x1="66.9" y1="678" x2="73.9" y2="678" stroke="#444" stroke-width="1.2"/>
<text x="60.8" y="681" text-anchor="end" font-size="12.4">0</text>
<line x1="66.9" y1="641.67" x2="73.9" y2="641.67" stroke="#444" stroke-width="1.2"/>
<text x="60.8" y="644.67" text-anchor="end" font-size="12.4">100</text>
<line x1="66.9" y1="605.34" x2="73.9" y2="605.34" stroke="#444" stroke-width="1.2"/>
<text x="60.8" y="608.34" text-anchor="end" font-size="12.4">200</text>
<line x1="66.9" y1="569.01" x2="73.9" y2="569.01" stroke="#444" stroke-width="1.2"/>
<text x="60.8" y="572.01" text-anchor="end" font-size="12.4">300</text>
<line x1="66.9" y1="532.68" x2="73.9" y2="532.68" stroke="#444" stroke-width="1.2"/>
<text x="60.8" y="535.68" text-anchor="end" font-size="12.4">400</text>
<line x1="66.9" y1="496.35" x2="73.9" y2="496.35" stroke="#444" stroke-width="1.2"/>
<text x="60.8" y="499.35" text-anchor="end" font-size="12.4">500</text>
<line x1="87" y1="680.2" x2="87" y2="687.2" stroke="#444" stroke-width="1.2"/>
<text x="87" y="698.8" text-anchor="middle" font-size="12.2">1980</text>
<line x1="138.3" y1="680.2" x2="138.3" y2="687.2" stroke="#444" stroke-width="1.2"/>
<text x="138.3" y="698.8" text-anchor="middle" font-size="12.2">1990</text>
<line x1="189.6" y1="680.2" x2="189.6" y2="687.2" stroke="#444" stroke-width="1.2"/>
<text x="189.6" y="698.8" text-anchor="middle" font-size="12.2">2000</text>
<line x1="240.9" y1="680.2" x2="240.9" y2="687.2" stroke="#444" stroke-width="1.2"/>
<text x="240.9" y="698.8" text-anchor="middle" font-size="12.2">2010</text>
<text x="114" y="504.8" text-anchor="start" font-size="12.4">trend = –2.408</text>
<text x="114" y="518" text-anchor="start" font-size="12.4">pvalue = 0.091</text>
<polyline points="362.88,632.38 368,672.53 373.12,582.25 378.24,492.91 383.36,501.25 388.48,590.35 393.6,535.06 398.72,602.45 403.84,535.06 408.96,641.89 414.08,634.14 419.2,660.21 424.32,655.63 429.44,634.5 434.56,638.72 439.68,615.95 444.8,671.36 449.92,552.32 455.04,572.39 460.16,610.43 465.28,658.8 470.4,628.04 475.52,600.8 480.64,588.24 485.76,640.84 490.88,501.25 496,586.01 501.12,663.96 506.24,632.85 511.36,601.86 516.48,613.37 521.6,582.96 526.72,590.35 531.84,619.82 536.96,638.72 542.08,651.4 547.2,617.71 552.32,626.04 557.44,666.08 562.56,612.43" fill="none" stroke="#0f6a2c" stroke-width="2.4" stroke-linejoin="round" stroke-linecap="round"/>
<line x1="354.7" y1="590.6" x2="570.7" y2="630.6" stroke="#1a1a1a" stroke-width="1.1"/>
<rect x="354.7" y="487" width="216" height="192.2" fill="none" stroke="#535353" stroke-width="1.35" stroke-linejoin="round"/>
<path d="M354.7,487 L354.7,679.2 L570.7,679.2" fill="none" stroke="#8a8a8a" stroke-width="1.6" stroke-linejoin="round"/>
<line x1="347.7" y1="675" x2="354.7" y2="675" stroke="#444" stroke-width="1.2"/>
<text x="342.4" y="678" text-anchor="end" font-size="12.4">0</text>
<line x1="347.7" y1="616.3" x2="354.7" y2="616.3" stroke="#444" stroke-width="1.2"/>
<text x="342.4" y="619.3" text-anchor="end" font-size="12.4">50</text>
<line x1="347.7" y1="557.6" x2="354.7" y2="557.6" stroke="#444" stroke-width="1.2"/>
<text x="342.4" y="560.6" text-anchor="end" font-size="12.4">100</text>
<line x1="347.7" y1="498.9" x2="354.7" y2="498.9" stroke="#444" stroke-width="1.2"/>
<text x="342.4" y="501.9" text-anchor="end" font-size="12.4">150</text>
<line x1="368" y1="679.2" x2="368" y2="686.2" stroke="#444" stroke-width="1.2"/>
<text x="368" y="697.8" text-anchor="middle" font-size="12.2">1980</text>
<line x1="419.2" y1="679.2" x2="419.2" y2="686.2" stroke="#444" stroke-width="1.2"/>
<text x="419.2" y="697.8" text-anchor="middle" font-size="12.2">1990</text>
<line x1="470.4" y1="679.2" x2="470.4" y2="686.2" stroke="#444" stroke-width="1.2"/>
<text x="470.4" y="697.8" text-anchor="middle" font-size="12.2">2000</text>
<line x1="521.6" y1="679.2" x2="521.6" y2="686.2" stroke="#444" stroke-width="1.2"/>
<text x="521.6" y="697.8" text-anchor="middle" font-size="12.2">2010</text>
<text x="395.8" y="503.8" text-anchor="start" font-size="12.4">trend = –0.810</text>
<text x="395.8" y="517" text-anchor="start" font-size="12.4">pvalue = 0.126</text>
<polyline points="81.87,869.12 87,826.9 92.13,885.87 97.26,900.43 102.39,890.96 107.52,884.78 112.65,875.31 117.78,859.66 122.91,830.9 128.04,810.88 133.17,890.96 138.3,811.98 143.43,804.7 148.56,827.99 153.69,829.08 158.82,844.74 163.95,781.04 169.08,848.01 174.21,868.4 179.34,869.49 184.47,809.06 189.6,880.41 194.73,811.98 199.86,781.04 204.99,803.6 210.12,844.74 215.25,837.46 220.38,811.61 225.51,862.94 230.64,814.16 235.77,824.72 240.9,850.92 246.03,850.92 251.16,803.6 256.29,791.23 261.42,838.91 266.55,827.99 271.68,861.12 276.81,810.52 281.94,720.98" fill="none" stroke="#ee1c24" stroke-width="2.4" stroke-linejoin="round" stroke-linecap="round"/>
<line x1="73.9" y1="867.3" x2="289.6" y2="805.6" stroke="#1a1a1a" stroke-width="1.1"/>
<rect x="73.9" y="714.4" width="215.7" height="191.6" fill="none" stroke="#535353" stroke-width="1.35" stroke-linejoin="round"/>
<path d="M73.9,714.4 L73.9,906 L289.6,906" fill="none" stroke="#8a8a8a" stroke-width="1.6" stroke-linejoin="round"/>
<line x1="66.9" y1="872.4" x2="73.9" y2="872.4" stroke="#444" stroke-width="1.2"/>
<text x="60.8" y="875.4" text-anchor="end" font-size="12.4">–1.0</text>
<line x1="66.9" y1="836" x2="73.9" y2="836" stroke="#444" stroke-width="1.2"/>
<text x="60.8" y="839" text-anchor="end" font-size="12.4">0</text>
<line x1="66.9" y1="799.6" x2="73.9" y2="799.6" stroke="#444" stroke-width="1.2"/>
<text x="60.8" y="802.6" text-anchor="end" font-size="12.4">1.0</text>
<line x1="66.9" y1="763.2" x2="73.9" y2="763.2" stroke="#444" stroke-width="1.2"/>
<text x="60.8" y="766.2" text-anchor="end" font-size="12.4">2.0</text>
<line x1="66.9" y1="726.8" x2="73.9" y2="726.8" stroke="#444" stroke-width="1.2"/>
<text x="60.8" y="729.8" text-anchor="end" font-size="12.4">3.0</text>
<line x1="87" y1="906" x2="87" y2="913" stroke="#444" stroke-width="1.2"/>
<text x="87" y="924.6" text-anchor="middle" font-size="12.2">1980</text>
<line x1="138.3" y1="906" x2="138.3" y2="913" stroke="#444" stroke-width="1.2"/>
<text x="138.3" y="924.6" text-anchor="middle" font-size="12.2">1990</text>
<line x1="189.6" y1="906" x2="189.6" y2="913" stroke="#444" stroke-width="1.2"/>
<text x="189.6" y="924.6" text-anchor="middle" font-size="12.2">2000</text>
<line x1="240.9" y1="906" x2="240.9" y2="913" stroke="#444" stroke-width="1.2"/>
<text x="240.9" y="924.6" text-anchor="middle" font-size="12.2">2010</text>
<text x="277.4" y="884.6" text-anchor="end" font-size="12.4">trend = 0.040</text>
<text x="277.4" y="897.8" text-anchor="end" font-size="12.4">pvalue = 0.002</text>
<polyline points="362.27,784.96 367.4,746.12 372.53,797.49 377.66,856.15 382.79,899.43 387.92,832.69 393.05,842.8 398.18,818.12 403.31,866.66 408.44,799.52 413.57,774.03 418.7,749.76 423.83,762.3 428.96,786.17 434.09,766.75 439.22,810.84 444.35,754.21 449.48,797.49 454.61,805.58 459.74,825.81 464.87,756.24 470,813.27 475.13,814.48 480.26,784.55 485.39,791.02 490.52,848.87 495.65,795.07 500.78,738.44 505.91,763.52 511.04,748.95 516.17,742.08 521.3,832.28 526.43,793.04 531.56,750.98 536.69,761.49 541.82,736.41 546.95,803.16 552.08,776.06 557.21,747.74 562.34,719.83" fill="none" stroke="#ee1c24" stroke-width="2.4" stroke-linejoin="round" stroke-linecap="round"/>
<line x1="353.8" y1="823.5" x2="570.2" y2="757.3" stroke="#1a1a1a" stroke-width="1.1"/>
<rect x="353.8" y="713.5" width="216.4" height="192.3" fill="none" stroke="#535353" stroke-width="1.35" stroke-linejoin="round"/>
<path d="M353.8,713.5 L353.8,905.8 L570.2,905.8" fill="none" stroke="#8a8a8a" stroke-width="1.6" stroke-linejoin="round"/>
<line x1="346.8" y1="869.9" x2="353.8" y2="869.9" stroke="#444" stroke-width="1.2"/>
<text x="342.4" y="872.9" text-anchor="end" font-size="12.4">–2.0</text>
<line x1="346.8" y1="829.45" x2="353.8" y2="829.45" stroke="#444" stroke-width="1.2"/>
<text x="342.4" y="832.45" text-anchor="end" font-size="12.4">–1.0</text>
<line x1="346.8" y1="789" x2="353.8" y2="789" stroke="#444" stroke-width="1.2"/>
<text x="342.4" y="792" text-anchor="end" font-size="12.4">0</text>
<line x1="346.8" y1="748.55" x2="353.8" y2="748.55" stroke="#444" stroke-width="1.2"/>
<text x="342.4" y="751.55" text-anchor="end" font-size="12.4">1.0</text>
<line x1="367.4" y1="905.8" x2="367.4" y2="912.8" stroke="#444" stroke-width="1.2"/>
<text x="367.4" y="924.4" text-anchor="middle" font-size="12.2">1980</text>
<line x1="418.7" y1="905.8" x2="418.7" y2="912.8" stroke="#444" stroke-width="1.2"/>
<text x="418.7" y="924.4" text-anchor="middle" font-size="12.2">1990</text>
<line x1="470" y1="905.8" x2="470" y2="912.8" stroke="#444" stroke-width="1.2"/>
<text x="470" y="924.4" text-anchor="middle" font-size="12.2">2000</text>
<line x1="521.3" y1="905.8" x2="521.3" y2="912.8" stroke="#444" stroke-width="1.2"/>
<text x="521.3" y="924.4" text-anchor="middle" font-size="12.2">2010</text>
<text x="560" y="884.3" text-anchor="end" font-size="12.4">trend = 0.039</text>
<text x="560" y="897.5" text-anchor="end" font-size="12.4">pvalue = 0.006</text>
<text transform="translate(21.2,352.8) rotate(-90) scale(1,1.08)" text-anchor="middle" font-size="15.45">SON temperature (°C)</text>
<text transform="translate(21.2,582.9) rotate(-90) scale(1,1.08)" text-anchor="middle" font-size="15.45">SON precipitation (mm)</text>
<text transform="translate(21.2,812) rotate(-90) scale(1,1.08)" text-anchor="middle" font-size="15.45">SON Fire Weather Index (z)</text>
</svg>
</body></html>
